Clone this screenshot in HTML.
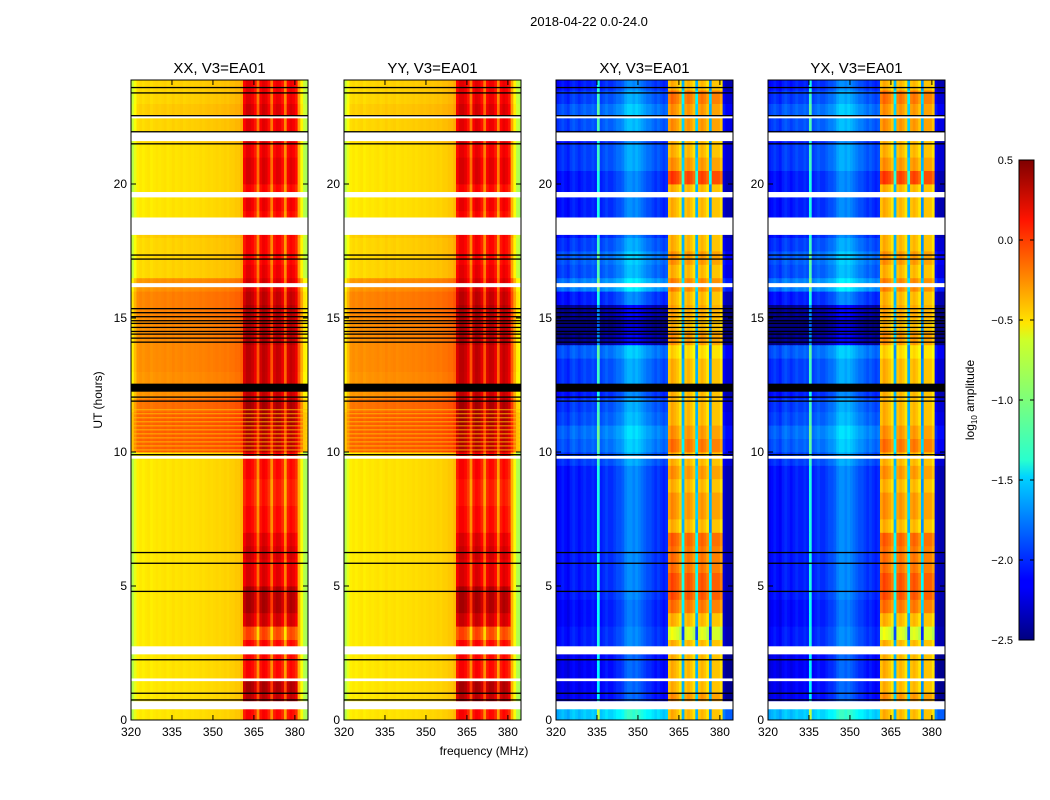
<!DOCTYPE html>
<html><head><meta charset="utf-8">
<style>
body{margin:0;background:#fff;}
svg{display:block;font-family:"Liberation Sans",sans-serif;}
</style></head>
<body>
<svg id="fig" width="1050" height="800" viewBox="0 0 1050 800">
<defs>
<linearGradient id="jet" x1="0" y1="1" x2="0" y2="0">
<stop offset="0" stop-color="#00007f"/><stop offset="0.11" stop-color="#0000ff"/>
<stop offset="0.125" stop-color="#0000ff"/><stop offset="0.34" stop-color="#00d4ff"/>
<stop offset="0.375" stop-color="#29ffce"/><stop offset="0.5" stop-color="#7dff7a"/>
<stop offset="0.625" stop-color="#ceff29"/><stop offset="0.66" stop-color="#ffe500"/>
<stop offset="0.875" stop-color="#ff1400"/><stop offset="1" stop-color="#7f0000"/>
</linearGradient>
</defs>
<text x="589" y="26" font-size="13" text-anchor="middle">2018-04-22 0.0-24.0</text>
<text x="484" y="755" font-size="12" text-anchor="middle">frequency (MHz)</text>
<text x="0" y="0" font-size="12" text-anchor="middle" transform="translate(102,400) rotate(-90)">UT (hours)</text>
<g id="panels"></g>
<g>
<rect x="1019" y="160" width="15" height="480" fill="url(#jet)" stroke="#000" stroke-width="1"/>
<g id="cbticks"></g>
<text x="0" y="0" font-size="12" text-anchor="middle" transform="translate(974,400) rotate(-90)">log<tspan font-size="8" dy="3">10</tspan><tspan dy="-3"> amplitude</tspan></text>
</g>
</svg>
<script>
const panelTitles=["XX, V3=EA01","YY, V3=EA01","XY, V3=EA01","YX, V3=EA01"];
const panelKinds=["par","par","cross","cross"];
const xTicks=[320,335,350,365,380];
const yTicks=[0,5,10,15,20];
const cbTicks=[0.5,0.0,-0.5,-1.0,-1.5,-2.0,-2.5];
const cbLabels=["0.5","0.0","\u22120.5","\u22121.0","\u22121.5","\u22122.0","\u22122.5"];
// frequency profiles, 1 MHz bins 320..384 (log10 amplitude)
const profPar=[-0.85,-0.7,-0.58,-0.56,-0.58,-0.56,-0.55,-0.58,-0.56,-0.55,-0.56,-0.55,-0.54,-0.56,-0.55,-0.53,-0.55,-0.54,-0.53,-0.55,-0.54,-0.53,-0.54,-0.53,-0.53,-0.52,-0.53,-0.52,-0.51,-0.52,-0.51,-0.5,-0.51,-0.5,-0.49,-0.5,-0.48,-0.48,-0.46,-0.46,-0.42,0.05,0.15,0.15,0.1,0.0,-0.3,0.08,0.15,0.12,0.02,-0.3,0.05,0.12,0.1,0.0,-0.35,0.05,0.12,0.08,0.0,-0.4,-0.65,-0.85,-0.9];
const profCross=[-2.15,-2.1,-2.05,-2.1,-2.15,-2.05,-2.0,-2.05,-2.1,-2.05,-2.0,-2.05,-2.05,-2.0,-2.05,-1.3,-2.05,-2.0,-1.95,-2.0,-2.0,-1.95,-1.9,-1.9,-1.85,-1.75,-1.7,-1.7,-1.75,-1.7,-1.75,-1.8,-1.85,-1.9,-1.9,-1.95,-2.0,-1.95,-2.0,-2.05,-2.0,-0.45,-0.35,-0.4,-0.45,-0.55,-1.6,-0.45,-0.4,-0.45,-0.55,-1.6,-0.45,-0.4,-0.45,-0.55,-1.7,-0.45,-0.45,-0.45,-0.55,-2.25,-2.35,-2.35,-2.35];
// half-hour rows 0..24h: band offsets and background offsets
const bandPar=[0.0,0.2,0.25,0.0,0.0,0.0,-0.2,0.15,0.25,0.25,0.1,0.1,0.15,0.1,0.0,0.0,-0.05,-0.05,0.0,0.0,0.1,0.1,0.15,0.15,0.1,0.1,0.1,0.1,0.15,0.15,0.15,0.1,0.05,0.05,0.0,0.0,0.0,0.0,0.05,0.0,0.1,0.1,0.05,0.1,0.05,0.1,0.05,0.05];
const bgPar=[0.0,0.0,0.0,0.0,0.0,0.0,0.0,0.0,0.0,0.0,0.0,0.0,0.0,0.0,0.0,0.0,0.0,0.0,0.0,0.0,0.4,0.4,0.4,0.35,0.25,0.25,0.27,0.27,0.27,0.27,0.3,0.3,0.25,0.05,0.05,0.05,0.08,0.0,0.0,0.0,0.0,0.0,0.0,0.05,0.05,0.08,0.05,0.05];
const bandCross=[0.0,0.1,0.0,0.0,0.0,0.0,-0.3,0.0,0.2,0.3,0.3,0.2,0.2,0.25,0.0,0.1,0.1,0.0,0.1,0.0,0.2,0.1,0.0,0.0,0.0,0.0,0.0,-0.1,0.1,0.0,0.05,0.0,0.15,0.0,0.1,0.0,0.0,0.0,0.0,0.0,0.35,0.1,0.0,0.0,0.1,0.1,0.2,0.0];
const bgCross=[0.5,-0.1,-0.1,-0.1,-0.1,0.0,0.0,-0.05,-0.05,0.0,0.0,0.0,0.0,0.0,0.0,0.0,0.0,0.0,0.0,0.1,0.2,0.25,0.15,0.1,0.0,0.1,0.1,0.2,-0.4,-0.5,-0.4,0.0,0.3,0.15,0.2,0.1,0.0,0.0,0.0,0.0,0.0,0.1,0.1,0.0,0.15,0.2,0.1,0.0];
// flagged (white) intervals in hours
const flagStart=[0.4,2.45,18.1,19.5,16.15,21.6,22.45,9.75,1.45];
const flagEnd=[0.7,2.75,18.75,19.7,16.3,21.95,22.55,9.85,1.55];
// black line times (hours) and thick black band
const blackLines=[0.75,1.0,2.25,4.8,5.85,6.25,9.9,11.9,12.05,14.1,14.25,14.4,14.5,14.65,14.8,14.9,15.05,15.2,15.35,17.2,17.35,21.5,21.95,22.55,23.4,23.6];
const blackBandStart=[12.25];
const blackBandEnd=[12.55];
const stripeTimes=[10.1,10.25,10.4,10.55,10.7,10.85,11.0,11.15,11.3,11.45,11.6];

const NS="http://www.w3.org/2000/svg";
const panelX=[131,344,556,768], PW=177, PT=80, PB=720;
const FMIN=320, FMAX=384.8, TMAX=23.88;
function xs(p,f){return panelX[p]+(f-FMIN)/(FMAX-FMIN)*PW;}
function ys(t){return PB-t/TMAX*(PB-PT);}
function cbY(v){return 640-(v+2.5)/3*480;}
function jet(v){
  let x=(v+2.5)/3; x=Math.max(0,Math.min(1,x));
  const r=Math.max(0,Math.min(1,Math.min(4*x-1.5,-4*x+4.5)));
  const g=Math.max(0,Math.min(1,Math.min(4*x-0.5,-4*x+3.5)));
  const b=Math.max(0,Math.min(1,Math.min(4*x+0.5,-4*x+2.5)));
  return `rgb(${Math.round(r*255)},${Math.round(g*255)},${Math.round(b*255)})`;
}
function mk(tag,attrs,parent){const e=document.createElementNS(NS,tag);for(const k in attrs)e.setAttribute(k,attrs[k]);parent.appendChild(e);return e;}
const root=document.getElementById('panels');
for(let p=0;p<4;p++){
  const g=mk('g',{},root);
  
  
  const clipId='clip'+p;
  const cp=mk('clipPath',{id:clipId},g);
  mk('rect',{x:panelX[p],y:PT,width:PW,height:PB-PT},cp);
  const hm=mk('g',{'clip-path':`url(#${clipId})`},g);
  
  
  const prof=panelKinds[p]=="par"?profPar:profCross;
  const band=panelKinds[p]=="par"?bandPar:bandCross;
  const bg=panelKinds[p]=="par"?bgPar:bgCross;
  for(let r=0;r<band.length;r++){
    const t0=r*0.5,t1=t0+0.5;
    for(let i=0;i<prof.length;i++){
      const f=FMIN+i;
      const inBand=(f>=361&&f<=380);
      let v=prof[i]+(inBand?band[r]:bg[r]);
      if(inBand&&panelKinds[p]=="par")v+=bg[r]*0.3;
      const x0=xs(p,f),x1=xs(p,f+1);
      const c=mk('rect',{x:x0.toFixed(2),y:ys(t1).toFixed(2),width:(x1-x0+0.4).toFixed(2),height:(ys(t0)-ys(t1)+0.4).toFixed(2),fill:jet(v)},hm);
      
      
    }
  }
  if(panelKinds[p]=="par"){
    for(const t of stripeTimes){
      const s=mk('rect',{x:panelX[p],y:ys(t),width:PW,height:1.2,fill:"#ffc000",opacity:0.7},hm);
      
      
    }
  }
  for(let k=0;k<flagStart.length;k++){
    const w=mk('rect',{x:panelX[p],y:ys(flagEnd[k]),width:PW,height:ys(flagStart[k])-ys(flagEnd[k]),fill:"#fff"},hm);
    
    
  }
  for(const t of blackLines){
    const l=mk('rect',{x:panelX[p],y:ys(t)-0.6,width:PW,height:1.3,fill:"#000"},hm);
    
    
  }
  for(let k=0;k<blackBandStart.length;k++){
    const b=mk('rect',{x:panelX[p],y:ys(blackBandEnd[k]),width:PW,height:ys(blackBandStart[k])-ys(blackBandEnd[k]),fill:"#000"},hm);
    
    
  }
  const fr=mk('rect',{x:panelX[p],y:PT,width:PW,height:PB-PT,fill:"none",stroke:"#000","stroke-width":1},g);
  
  
  const tt=mk('text',{x:panelX[p]+PW/2,y:73,'font-size':15,'text-anchor':'middle'},g);
  tt.textContent=panelTitles[p];
  
  
  for(const f of xTicks){
    const x=xs(p,f);
    mk('line',{x1:x,x2:x,y1:PB,y2:PB-5,stroke:"#000"},g);
    mk('line',{x1:x,x2:x,y1:PT,y2:PT+5,stroke:"#000"},g);
    const tx=mk('text',{x:x,y:PB+16,'font-size':12,'text-anchor':'middle'},g);
    tx.textContent=f;
    
    
  }
  for(const t of yTicks){
    const y=ys(t);
    mk('line',{x1:panelX[p],x2:panelX[p]+5,y1:y,y2:y,stroke:"#000"},g);
    mk('line',{x1:panelX[p]+PW,x2:panelX[p]+PW-5,y1:y,y2:y,stroke:"#000"},g);
    const ty=mk('text',{x:panelX[p]-4,y:y+4,'font-size':12,'text-anchor':'end'},g);
    ty.textContent=t;
    
    
  }
}
const cbg=document.getElementById('cbticks');
for(let i=0;i<cbTicks.length;i++){
  const y=cbY(cbTicks[i]);
  mk('line',{x1:1019,x2:1023,y1:y,y2:y,stroke:"#000"},cbg);
  mk('line',{x1:1034,x2:1030,y1:y,y2:y,stroke:"#000"},cbg);
  const t=mk('text',{x:1013,y:y+4,'font-size':11,'text-anchor':'end'},cbg);
  t.textContent=cbLabels[i];
  
  
}
</script>
</body></html>
